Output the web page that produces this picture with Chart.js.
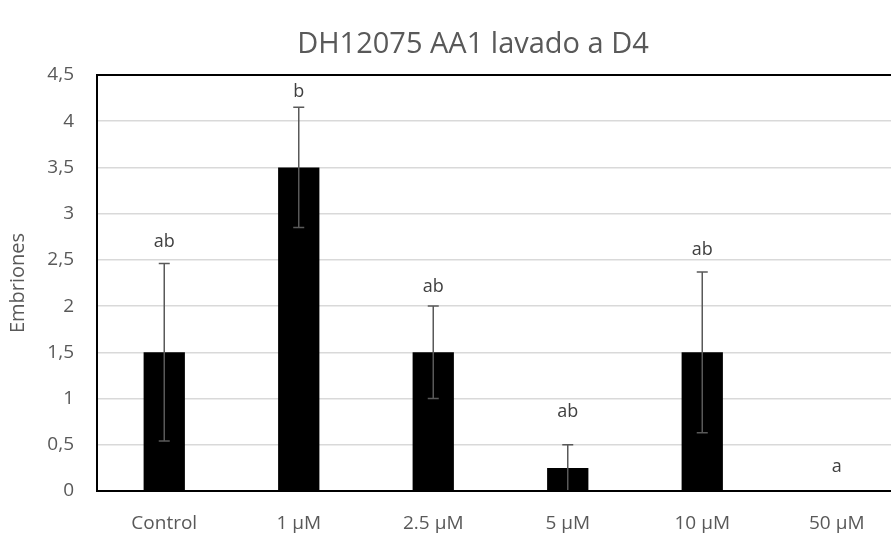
<!DOCTYPE html>
<html>
<head>
<meta charset="utf-8">
<script src="https://cdn.jsdelivr.net/npm/chart.js@4/dist/chart.umd.min.js"></script>
<style>
html,body{margin:0;padding:0;background:#fff;overflow:hidden;}
#wrap{width:904px;height:535px;position:relative;}
</style>
</head>
<body>
<div id="wrap"><canvas id="c" width="904" height="535"></canvas></div>
<script>
const categories = ["Control", "1 µM", "2.5 µM", "5 µM", "10 µM", "50 µM"];
const embriones = [1.5, 3.5, 1.5, 0.25, 1.5, 0];
const errors = [0.96, 0.65, 0.5, 0.25, 0.87, 0];
const letters = ["ab", "b", "ab", "ab", "ab", "a"];
const letterAt = [2.70, 4.32, 2.21, 0.86, 2.61, 0.26];
const yTicks = [0, 0.5, 1, 1.5, 2, 2.5, 3, 3.5, 4, 4.5];
const chartTitle = "DH12075 AA1 lavado a D4";

const FONT = "'Open Sans', 'Liberation Sans', sans-serif";
const GREY = "#595959";

const extras = {
  id: "extras",
  afterDatasetsDraw(chart) {
    const ctx = chart.ctx;
    const y = chart.scales.y;
    const meta = chart.getDatasetMeta(0);
    ctx.save();
    ctx.strokeStyle = GREY;
    ctx.lineWidth = 1.5;
    meta.data.forEach((bar, i) => {
      const e = errors[i];
      if (!e) return;
      const cx = bar.x;
      const top = y.getPixelForValue(embriones[i] + e);
      const bot = y.getPixelForValue(embriones[i] - e);
      ctx.beginPath();
      ctx.moveTo(cx, top); ctx.lineTo(cx, bot);
      ctx.moveTo(cx - 5.5, top); ctx.lineTo(cx + 5.5, top);
      ctx.moveTo(cx - 5.5, bot); ctx.lineTo(cx + 5.5, bot);
      ctx.stroke();
    });
    ctx.fillStyle = "#404040";
    ctx.font = "18px " + FONT;
    ctx.textAlign = "center";
    ctx.textBaseline = "middle";
    meta.data.forEach((bar, i) => {
      ctx.fillText(letters[i], bar.x, y.getPixelForValue(letterAt[i]));
    });
    const a = chart.chartArea;
    ctx.strokeStyle = "#000";
    ctx.lineWidth = 2;
    ctx.beginPath();
    ctx.moveTo(a.left, a.top); ctx.lineTo(chart.width, a.top);
    ctx.moveTo(a.left, a.top - 1); ctx.lineTo(a.left, a.bottom + 1);
    ctx.moveTo(a.left, a.bottom); ctx.lineTo(chart.width, a.bottom);
    ctx.stroke();
    ctx.fillStyle = GREY;
    ctx.font = "29px " + FONT;
    ctx.textBaseline = "middle";
    ctx.fillText(chartTitle, 473, 45);
    ctx.restore();
  }
};

new Chart(document.getElementById("c"), {
  type: "bar",
  data: {
    labels: categories,
    datasets: [{
      data: embriones,
      backgroundColor: "#000",
      borderWidth: 0,
      barPercentage: 0.307,
      categoryPercentage: 1
    }]
  },
  options: {
    responsive: false,
    animation: false,
    layout: { padding: { top: 75, left: 0, right: 0, bottom: 0 } },
    plugins: { legend: { display: false }, tooltip: { enabled: false }, title: { display: false } },
    scales: {
      x: {
        afterFit: (s) => { s.height = 44; },
        grid: { display: false },
        border: { display: false },
        ticks: { color: GREY, font: { family: FONT, size: 19 }, padding: 13, maxRotation: 0 }
      },
      y: {
        min: 0, max: 4.5,
        afterFit: (s) => { s.width = 97; },
        afterBuildTicks: (s) => { s.ticks = yTicks.map(v => ({ value: v })); },
        grid: { color: "#d9d9d9", lineWidth: 1.5, drawTicks: false },
        border: { display: false },
        ticks: {
          color: GREY, font: { family: FONT, size: 19 }, padding: 23,
          callback: (v) => String(v).replace(".", ",")
        },
        title: { display: true, text: "Embriones", color: GREY, font: { family: FONT, size: 20 }, padding: { top: 6, bottom: 0 } }
      }
    }
  },
  plugins: [extras]
});
</script>
</body>
</html>
